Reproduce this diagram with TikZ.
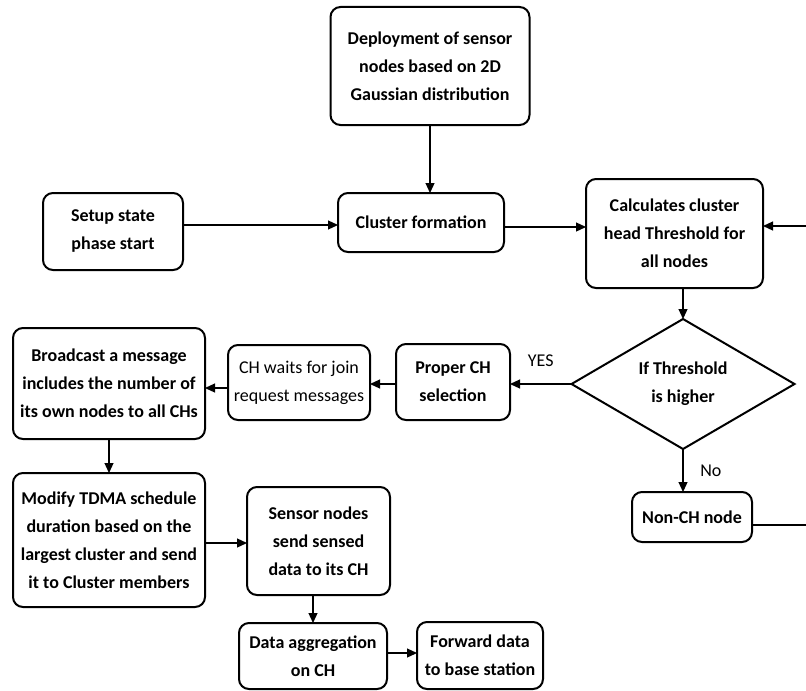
\documentclass[tikz,border=0pt]{standalone}
\usepackage{fontspec}
\setmainfont{Carlito}
\usetikzlibrary{arrows.meta, calc, shapes.geometric}

\begin{document}
\begin{tikzpicture}[% styles used in the flow chart
        x = 0.5pt, y = -0.5pt,
        > = {Triangle[length=5pt, width=4.5pt]},
every node/.style = {font=\fontsize{9}{14}\selectfont},
box/.style args = {#1/#2}{draw, line width=1pt, rounded corners=5pt,
              minimum width=#1, minimum height=#2,
              inner sep=1pt, outer sep=0pt, align=center,
              font=\fontsize{9}{14}\selectfont\bfseries},
test/.style = {draw, line width=1pt, diamond, aspect=1.7,
              minimum width=111.5pt, minimum height=65pt,
              inner sep=0pt, outer sep=0pt, align=center,
              font=\fontsize{9}{14}\selectfont\bfseries},
flow/.style = {->, line width=0.6pt}
                        ]
	\useasboundingbox (0,0) rectangle (806,690);
	
	% first row
	\node[box=99.5pt/59pt]   (deploy)  at (430,66)    {Deployment of sensor\\ nodes based on 2D\\ Gaussian distribution};
	\node[box=70pt/38.5pt]   (setup)   at (113,231.5) {Setup state\\ phase start};
	\node[box=83pt/29.5pt]   (cluster) at (421,222.5) {Cluster formation};
	\node[box=88.5pt/54.5pt] (calc)    at (674.5,233.5) {Calculates cluster\\ head Threshold for\\ all nodes};
	
	% decision row
	\node[test]              (dec)     at (683,384)   {If Threshold\\ is higher};
	\node[box=57pt/38pt]     (proper)  at (453,382)   {Proper CH\\ selection};
	\node[box=71pt/37.5pt, font=\fontsize{9}{14}\selectfont]
	                         (wait)    at (299,382.5) {CH waits for join\\ request messages};
	\node[box=96pt/55.5pt]   (bcast)   at (109,383.5) {Broadcast a message\\ includes the number of\\ its own nodes to all CHs};
	\node[box=60pt/25pt]     (nonch)   at (692,517)   {Non-CH node};
	
	% lower rows
	\node[box=96pt/67pt]     (tdma)    at (109,540)   {Modify TDMA schedule\\ duration based on the\\ largest cluster and send\\ it to Cluster members};
	\node[box=71.5pt/54pt]   (sense)   at (318.5,541)  {Sensor nodes\\ send sensed\\ data to its CH};
	\node[box=74pt/33pt]     (aggr)    at (313,656)   {Data aggregation\\ on CH};
	\node[box=63pt/33.5pt]   (fwd)     at (480,655.5) {Forward data\\ to base station};
	
	% loop ends leaving the picture
	\coordinate (loopA) at (806,525);
	\coordinate (loopB) at (806,226);
	
	% connectors
	\draw[flow] (deploy.south) -- (deploy.south |- cluster.north);
	\draw[flow] (setup.east |- 0,225) -- (cluster.west |- 0,225);
	\draw[flow] (cluster.east |- 0,227) -- (calc.west |- 0,227);
	\draw[flow] (loopB) -- (calc.east |- loopB);
	\draw[flow] (dec.north |- calc.south) -- (dec.north);
	\draw[flow] (dec.west) -- (dec.west -| proper.east) node[midway, above=5pt] {YES};
	\draw[flow] (proper.west |- 0,384) -- (wait.east |- 0,384);
	\draw[flow] (wait.west |- 0,388) -- (bcast.east |- 0,388);
	\draw[flow] (bcast.south) -- (tdma.north);
	\draw[flow] (tdma.east |- 0,543) -- (sense.west |- 0,543);
	\draw[flow] (sense.south -| aggr.north) -- (aggr.north);
	\draw[flow] (aggr.east |- 0,653) -- (fwd.west |- 0,653);
	\draw[flow] (dec.south) -- (dec.south |- nonch.north) node[midway, right=5pt] {No};
	\draw[line width=0.6pt] (nonch.east |- loopA) -- (loopA);
\end{tikzpicture}
\end{document}
